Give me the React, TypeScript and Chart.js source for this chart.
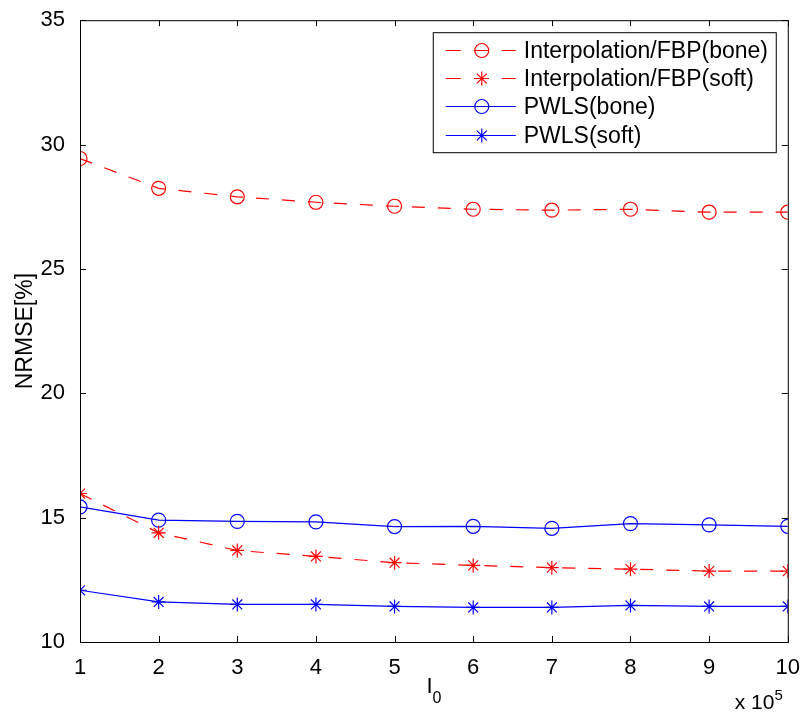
import React, { useEffect, useRef } from "react";
import { Chart, registerables } from "chart.js";
import { drawPoint } from "chart.js/helpers";

Chart.register(...registerables);

const xValues = [1, 2, 3, 4, 5, 6, 7, 8, 9, 10];
const fbpBone = [29.44, 28.24, 27.9, 27.68, 27.52, 27.4, 27.36, 27.4, 27.28, 27.28];
const fbpSoft = [15.97, 14.39, 13.68, 13.44, 13.19, 13.08, 12.99, 12.93, 12.85, 12.85];
const pwlsBone = [15.43, 14.9, 14.85, 14.83, 14.64, 14.65, 14.57, 14.76, 14.71, 14.65];
const pwlsSoft = [12.08, 11.61, 11.51, 11.51, 11.43, 11.39, 11.39, 11.47, 11.43, 11.43];
const seriesLabels = [
  "Interpolation/FBP(bone)",
  "Interpolation/FBP(soft)",
  "PWLS(bone)",
  "PWLS(soft)",
];
const xTicks = [1, 2, 3, 4, 5, 6, 7, 8, 9, 10];
const yTicks = [10, 15, 20, 25, 30, 35];

const RED = "rgb(255,0,0)";
const BLUE = "rgb(0,0,255)";
const FONT = "'Liberation Sans', Arial, Helvetica, sans-serif";
const DASH = [13, 13];
const LW = 1.2;

const matlabPlugin = {
  id: "matlabFrame",
  afterDatasetsDraw(chart: any) {
    const ctx = chart.ctx as CanvasRenderingContext2D;
    const { left, right, top, bottom } = chart.chartArea;
    const xs = chart.scales.x;
    const ys = chart.scales.y;
    ctx.save();
    // frame
    ctx.strokeStyle = "#000";
    ctx.lineWidth = 1;
    ctx.setLineDash([]);
    ctx.strokeRect(left + 0.5, top + 0.5, right - left, bottom - top);
    // inward ticks
    const tl = 6;
    ctx.beginPath();
    for (const v of xTicks) {
      const px = Math.round(xs.getPixelForValue(v)) + 0.5;
      ctx.moveTo(px, bottom);
      ctx.lineTo(px, bottom - tl);
      ctx.moveTo(px, top);
      ctx.lineTo(px, top + tl);
    }
    for (const v of yTicks) {
      const py = Math.round(ys.getPixelForValue(v)) + 0.5;
      ctx.moveTo(left, py);
      ctx.lineTo(left + tl, py);
      ctx.moveTo(right, py);
      ctx.lineTo(right - tl, py);
    }
    ctx.stroke();

    // legend
    const bw = 343;
    const bh = 120;
    const bx = right - 12 - bw;
    const by = top + 12;
    ctx.fillStyle = "#fff";
    ctx.fillRect(bx, by, bw, bh);
    ctx.strokeStyle = "#000";
    ctx.strokeRect(bx + 0.5, by + 0.5, bw, bh);
    chart.data.datasets.forEach((ds: any, i: number) => {
      const cy = Math.round(by + 17.5 + i * 28.3) + 0.5;
      ctx.save();
      ctx.strokeStyle = ds.borderColor;
      ctx.lineWidth = LW;
      ctx.setLineDash(ds.borderDash && ds.borderDash.length ? [15, 13] : []);
      ctx.beginPath();
      ctx.moveTo(bx + 13, cy);
      ctx.lineTo(bx + 83, cy);
      ctx.stroke();
      ctx.setLineDash([]);
      ctx.fillStyle = "rgba(0,0,0,0)";
      ctx.lineWidth = LW;
      drawPoint(ctx, {
        pointStyle: ds.pointStyle,
        radius: ds.pointRadius,
        borderWidth: LW,
        rotation: 0,
      } as any, bx + 49, cy);
      ctx.restore();
      ctx.fillStyle = "#000";
      ctx.font = `23px ${FONT}`;
      ctx.textAlign = "left";
      ctx.textBaseline = "middle";
      ctx.fillText(ds.label, bx + 91, cy + 1);
    });

    // y axis title
    ctx.fillStyle = "#000";
    ctx.save();
    ctx.translate(26, (top + bottom) / 2);
    ctx.rotate(-Math.PI / 2);
    ctx.font = `23px ${FONT}`;
    ctx.textAlign = "center";
    ctx.textBaseline = "middle";
    ctx.fillText("NRMSE[%]", 0, 0);
    ctx.restore();

    // x axis title I_0
    ctx.textAlign = "left";
    ctx.textBaseline = "alphabetic";
    ctx.font = `22px ${FONT}`;
    const wI = ctx.measureText("I").width;
    ctx.font = `16px ${FONT}`;
    const w0 = ctx.measureText("0").width;
    const sx = (left + right) / 2 - (wI + w0) / 2;
    ctx.font = `22px ${FONT}`;
    ctx.fillText("I", sx, 693);
    ctx.font = `16px ${FONT}`;
    ctx.fillText("0", sx + wI, 703);

    // exponent label
    ctx.textAlign = "right";
    ctx.font = `15px ${FONT}`;
    ctx.fillText("5", right - 5, 700);
    const w5 = ctx.measureText("5").width;
    ctx.font = `21px ${FONT}`;
    ctx.fillText("x 10", right - 5 - w5, 709);
    ctx.restore();
  },
};

export default function App() {
  const ref = useRef<HTMLCanvasElement | null>(null);
  useEffect(() => {
    if (!ref.current) return;
    const mk = (vals: number[]) => xValues.map((x, i) => ({ x, y: vals[i] }));
    const base = {
      borderWidth: LW,
      pointRadius: 7,
      pointBackgroundColor: "rgba(0,0,0,0)",
      pointBorderWidth: LW,
    };
    const chart = new Chart(ref.current, {
      type: "line",
      data: {
        datasets: [
          {
            ...base,
            label: seriesLabels[0],
            data: mk(fbpBone),
            borderColor: RED,
            borderDash: DASH,
            pointStyle: "circle",
            pointBorderColor: RED,
          },
          {
            ...base,
            label: seriesLabels[1],
            data: mk(fbpSoft),
            borderColor: RED,
            borderDash: DASH,
            pointStyle: "star",
            pointBorderColor: RED,
          },
          {
            ...base,
            label: seriesLabels[2],
            data: mk(pwlsBone),
            borderColor: BLUE,
            borderDash: [],
            pointStyle: "circle",
            pointBorderColor: BLUE,
          },
          {
            ...base,
            label: seriesLabels[3],
            data: mk(pwlsSoft),
            borderColor: BLUE,
            borderDash: [],
            pointStyle: "star",
            pointBorderColor: BLUE,
          },
        ] as any,
      },
      options: {
        responsive: false,
        animation: false,
        events: [],
        layout: { padding: { top: 17, right: 16, left: 0, bottom: 0 } },
        plugins: { legend: { display: false }, tooltip: { enabled: false } },
        scales: {
          x: {
            type: "linear",
            min: 1,
            max: 10,
            afterBuildTicks: (s: any) => {
              s.ticks = xTicks.map((v) => ({ value: v }));
            },
            ticks: {
              color: "#000",
              font: { size: 22, family: FONT },
              padding: 5,
              maxRotation: 0,
              autoSkip: false,
            },
            grid: { display: false },
            border: { display: false },
            afterFit: (s: any) => {
              s.height = 73;
            },
          },
          y: {
            type: "linear",
            min: 10,
            max: 35,
            afterBuildTicks: (s: any) => {
              s.ticks = yTicks.map((v) => ({ value: v }));
            },
            ticks: {
              color: "#000",
              font: { size: 22, family: FONT },
              padding: 7,
              autoSkip: false,
            },
            grid: { display: false },
            border: { display: false },
            afterFit: (s: any) => {
              s.width = 80;
            },
          },
        },
      } as any,
      plugins: [matlabPlugin],
    });
    return () => chart.destroy();
  }, []);
  return (
    <div style={{ position: "fixed", left: 0, top: 0, width: 805, height: 715, background: "#fff" }}>
      <canvas ref={ref} width={805} height={715} style={{ display: "block" }} />
    </div>
  );
}
